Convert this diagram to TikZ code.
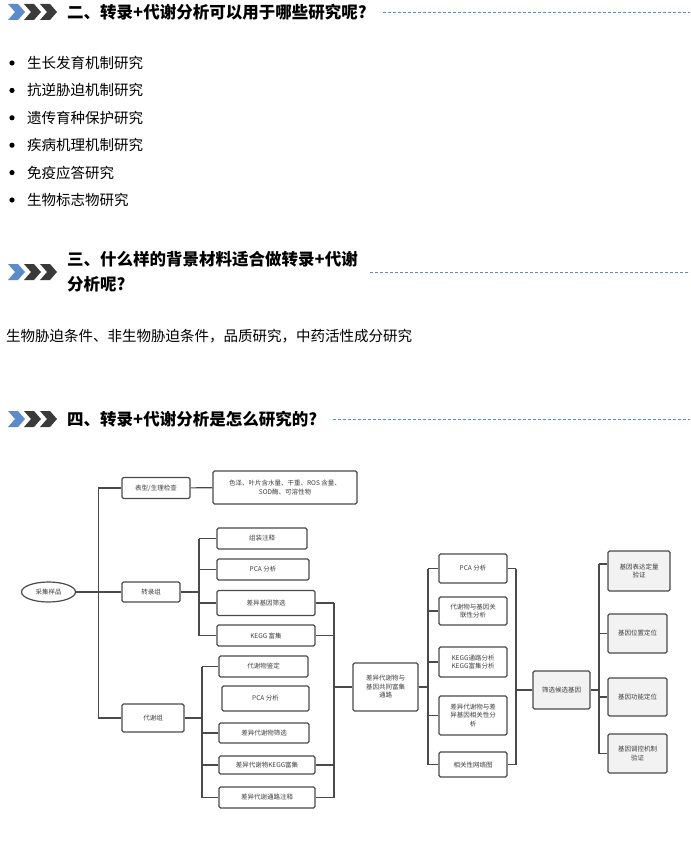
\documentclass[tikz,border=0pt]{standalone}
\usepackage{fontspec}
\setmainfont{Noto Sans CJK SC}
\usepackage{tikz}
\usetikzlibrary{shapes.geometric}
\definecolor{hblue}{HTML}{5B8BC9}
\definecolor{hdark}{HTML}{3A3A3A}
\definecolor{lnc}{HTML}{4A4A4A}
\definecolor{boxgray}{HTML}{F2F2F2}
\tikzstyle{box} = [rectangle,
rounded corners=1.5pt,
draw=lnc,
line width=1.2pt,
fill=white,
text=black!75,
font=\fontsize{6.5}{8.5}\selectfont,
align=center,
inner sep=1pt]
\tikzstyle{graybox} = [box, fill=boxgray]
\tikzstyle{oval} = [ellipse, draw=lnc, line width=1.2pt, fill=white,
text=black!75, font=\fontsize{6.5}{8.5}\selectfont, inner sep=0pt]
\tikzstyle{link} = [draw=lnc, line width=1.2pt]
\tikzstyle{heading} = [anchor=west, inner sep=0pt, align=left,
font=\fontsize{16.5}{25}\selectfont\bfseries]
\tikzstyle{rule} = [hblue, line width=0.8pt, dash pattern=on 3pt off 2pt]
\newcommand{\chevs}[1]{%
  \fill[hblue] (8,#1-8) -- (18,#1-8) -- (25,#1) -- (18,#1+8) -- (8,#1+8) -- (15,#1) -- cycle;
  \fill[hdark] (24,#1-8) -- (34,#1-8) -- (41,#1) -- (34,#1+8) -- (24,#1+8) -- (31,#1) -- cycle;
  \fill[hdark] (40,#1-8) -- (50,#1-8) -- (57,#1) -- (50,#1+8) -- (40,#1+8) -- (47,#1) -- cycle;}

\begin{document}
\begin{tikzpicture}[x=1pt, y=-1pt]
\useasboundingbox (0,0) rectangle (690,850);
% headings
\chevs{12}
\node (h1) [heading] at (67,12) {二、转录+代谢分析可以用于哪些研究呢?};
\coordinate (h1end) at (690,12);
\draw [rule] (h1.east) ++(16,0) -- (h1end);

\foreach \txt [count=\i] in {生长发育机制研究, 抗逆胁迫机制研究, 遗传育种保护研究,
  疾病机理机制研究, 免疫应答研究, 生物标志物研究} {
  \fill (12,{63+27.4*(\i-1)}) circle (2.6);
  \node [anchor=west, inner sep=0pt, font=\fontsize{14.5}{17}\selectfont] at (27,{63+27.4*(\i-1)}) {\txt};
}

\chevs{272}
\node (h2) [heading] at (67,272) {三、什么样的背景材料适合做转录+代谢\\分析呢?};
\coordinate (h2beg) at (370,272);
\coordinate (h2end) at (690,272);
\draw [rule] (h2beg) -- (h2end);

\node (bg) [anchor=west, inner sep=0pt, font=\fontsize{14.5}{17}\selectfont] at (6,336)
  {生物胁迫条件、非生物胁迫条件，品质研究，中药活性成分研究};

\chevs{419}
\node (h3) [heading] at (67,419) {四、转录+代谢分析是怎么研究的?};
\coordinate (h3end) at (690,419);
\draw [rule] (h3.east) ++(16,0) -- (h3end);

% flow chart
\node (sample) [oval, minimum width=54, minimum height=20] at (48.5,592) {采集样品};
\node (pheno) [box, minimum width=68, minimum height=21] at (156,488) {表型/生理检查};
\node (index) [box, minimum width=144, minimum height=33] at (285,487.5)
  {色泽、叶片含水量、干重、ROS 含量、\\SOD酶、可溶性物};
\node (trans) [box, minimum width=58, minimum height=20] at (151,592) {转录组};
\node (asm) [box, minimum width=90, minimum height=21] at (262,538.5) {组装注释};
\node (tpca) [box, minimum width=92, minimum height=21] at (263,569.5) {PCA 分析};
\node (deg) [box, minimum width=98, minimum height=25] at (266,603) {差异基因筛选};
\node (tkegg) [box, minimum width=98, minimum height=21] at (266,635.5) {KEGG 富集};
\node (meta) [box, minimum width=62, minimum height=28] at (153,718) {代谢组};
\node (mid) [box, minimum width=89, minimum height=21] at (263.5,666.5) {代谢物鉴定};
\node (mpca) [box, minimum width=87, minimum height=25] at (265.5,698.5) {PCA 分析};
\node (dem) [box, minimum width=90, minimum height=20] at (264,733) {差异代谢物筛选};
\node (mkegg) [box, minimum width=96, minimum height=18] at (267,765) {差异代谢物KEGG富集};
\node (mpath) [box, minimum width=96, minimum height=21] at (267,797.5) {差异代谢通路注释};
\node (joint) [box, minimum width=65, minimum height=48] at (385.5,687)
  {差异代谢物与\\基因共同富集\\通路};
\node (jpca) [box, minimum width=68, minimum height=29] at (473,568.5) {PCA 分析};
\node (jcor) [box, minimum width=68, minimum height=28] at (473,611) {代谢物与基因关\\联性分析};
\node (jkegg) [box, minimum width=68, minimum height=30] at (473,662) {KEGG通路分析\\KEGG富集分析};
\node (jdiff) [box, minimum width=68, minimum height=39] at (473,715.5)
  {差异代谢物与差\\异基因相关性分\\析};
\node (jnet) [box, minimum width=68, minimum height=25] at (473,764.5) {相关性网络图};
\node (cand) [graybox, minimum width=57, minimum height=38] at (561.5,690) {筛选候选基因};
\node (g1) [graybox, minimum width=62, minimum height=40] at (639,571) {基因表达定量\\验证};
\node (g2) [graybox, minimum width=59, minimum height=39] at (637.5,633.5) {基因位置定位};
\node (g3) [graybox, minimum width=59, minimum height=38] at (637.5,697) {基因功能定位};
\node (g4) [graybox, minimum width=59, minimum height=39] at (637.5,753.5) {基因调控机制\\验证};

% buses
\coordinate (b1) at (98.5,592);
\coordinate (b2) at (199,592);
\coordinate (b3) at (202,718);
\coordinate (b4) at (334,687);
\coordinate (b5) at (428,687);
\coordinate (b6) at (516,690);
\coordinate (b7) at (599,690);
\coordinate (g1in) at (599,564);

\draw [link] (sample) -- (trans);
\draw [link] (pheno) -- (b1 |- pheno) -- (b1 |- meta) -- (meta);
\draw [link] (pheno) -- (index);

\draw [link] (trans) -- (b2);
\draw [link] (b2 |- asm) -- (b2 |- tkegg);
\foreach \n in {asm, tpca, deg, tkegg} \draw [link] (b2 |- \n) -- (\n);

\draw [link] (meta) -- (b3);
\draw [link] (b3 |- mid) -- (b3 |- mpath);
\foreach \n in {mid, dem, mkegg, mpath} \draw [link] (b3 |- \n) -- (\n);

\draw [link] (b4 |- deg) -- (b4 |- mpath);
\foreach \n in {deg, tkegg, mkegg, mpath} \draw [link] (\n) -- (b4 |- \n);
\draw [link] (b4) -- (joint);

\draw [link] (joint) -- (b5);
\draw [link] (b5 |- jpca) -- (b5 |- jnet);
\foreach \n in {jpca, jcor, jkegg, jdiff, jnet} \draw [link] (b5 |- \n) -- (\n);

\draw [link] (b6 |- jpca) -- (b6 |- jnet);
\foreach \n in {jpca, jnet} \draw [link] (\n) -- (b6 |- \n);
\draw [link] (b6) -- (cand);

\draw [link] (cand) -- (b7);
\draw [link] (g1in) -- (b7 |- g4);
\draw [link] (g1in) -- (g1in -| g1.west);
\foreach \n in {g2, g3, g4} \draw [link] (b7 |- \n) -- (\n);
\end{tikzpicture}
\end{document}
